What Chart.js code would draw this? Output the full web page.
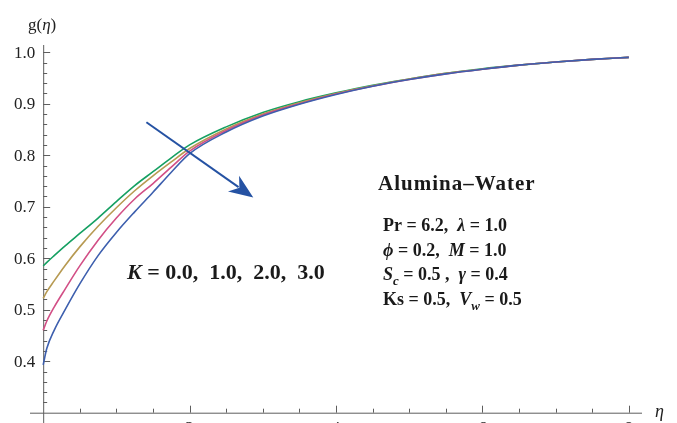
<!DOCTYPE html>
<html>
<head>
<meta charset="utf-8">
<script src="https://cdn.jsdelivr.net/npm/chart.js@4"></script>
<style>
  html, body { margin: 0; padding: 0; background: #fff; overflow: hidden; }
  #wrap { width: 677px; height: 423px; }
</style>
</head>
<body>
<div id="wrap"><canvas id="canvas" width="677" height="423"></canvas></div>
<script>
// eta values where the curves were read
var eta = [0, 0.05, 0.15, 0.3, 0.5, 0.75, 1.0, 1.25, 1.5, 1.75, 2.0, 2.5, 3.0, 3.5, 4.0, 4.5, 5.0, 5.5, 6.0, 6.5, 7.0, 7.5, 8.0];
var gK0 = [0.393, 0.425, 0.46, 0.5, 0.55, 0.605, 0.65, 0.69, 0.728, 0.767, 0.803, 0.845, 0.876, 0.899, 0.918, 0.934, 0.947, 0.958, 0.967, 0.975, 0.981, 0.986, 0.99];
var gK1 = [0.46, 0.478, 0.505, 0.54, 0.585, 0.635, 0.678, 0.715, 0.745, 0.777, 0.808, 0.848, 0.878, 0.9, 0.919, 0.934, 0.947, 0.958, 0.967, 0.975, 0.981, 0.986, 0.99];
var gK2 = [0.522, 0.535, 0.556, 0.586, 0.622, 0.662, 0.698, 0.731, 0.76, 0.787, 0.813, 0.851, 0.88, 0.902, 0.92, 0.935, 0.948, 0.959, 0.967, 0.975, 0.981, 0.986, 0.99];
var gK3 = [0.585, 0.592, 0.605, 0.624, 0.648, 0.678, 0.71, 0.741, 0.768, 0.795, 0.82, 0.855, 0.883, 0.904, 0.921, 0.936, 0.948, 0.959, 0.968, 0.975, 0.981, 0.986, 0.99];
var kLabels = ['K = 0.0', 'K = 1.0', 'K = 2.0', 'K = 3.0'];
var colors = ['#3d5fae', '#d24f86', '#b79a52', '#15a062'];

var xTicks = [0, 2, 4, 6, 8];
var yTicks = [0.4, 0.5, 0.6, 0.7, 0.8, 0.9, 1.0];

function pts(ys) {
    return eta.map(function(e, i) { return {x: e, y: ys[i]}; });
}

var serif = '"Liberation Serif", "DejaVu Serif", serif';
var axisColor = '#5e5e5e';

function drawRuns(ctx, x, y, parts, size) {
    parts.forEach(function(p) {
        var sub = p[2];
        var s = sub ? size * 0.72 : size;
        ctx.font = (p[1] ? 'italic ' : '') + 'bold ' + s + 'px ' + serif;
        ctx.fillText(p[0], x, y + (sub ? size * 0.28 : 0));
        x += ctx.measureText(p[0]).width;
    });
}

var axesPlugin = {
    id: 'mmaAxes',
    beforeDatasetsDraw: function(chart) {
        var ctx = chart.ctx;
        var xs = chart.scales.x, ys = chart.scales.y, area = chart.chartArea;
        var x0 = xs.getPixelForValue(0), y0 = ys.getPixelForValue(0.3);
        ctx.save();
        ctx.strokeStyle = axisColor;
        ctx.lineWidth = 1;
        ctx.beginPath();
        ctx.moveTo(x0 + 0.5, area.top);
        ctx.lineTo(x0 + 0.5, area.bottom);
        ctx.moveTo(area.left, y0 + 0.5);
        ctx.lineTo(area.right, y0 + 0.5);
        // y ticks, pointing into the plot
        for (var v = 0.32; v <= 1.001; v += 0.02) {
            var yp = Math.round(ys.getPixelForValue(v)) + 0.5;
            var major = Math.abs(v * 10 - Math.round(v * 10)) < 1e-6;
            ctx.moveTo(x0, yp);
            ctx.lineTo(x0 + (major ? 7 : 4), yp);
        }
        // x ticks, pointing up
        for (var e = 0.5; e <= 8.001; e += 0.5) {
            var xp = Math.round(xs.getPixelForValue(e)) + 0.5;
            var maj = Math.abs(e / 2 - Math.round(e / 2)) < 1e-6;
            ctx.moveTo(xp, y0);
            ctx.lineTo(xp, y0 - (maj ? 7 : 4));
        }
        ctx.stroke();

        ctx.fillStyle = '#222';
        ctx.font = '17px ' + serif;
        ctx.textAlign = 'right';
        ctx.textBaseline = 'middle';
        yTicks.forEach(function(t) {
            ctx.fillText(t.toFixed(1), x0 - 8, ys.getPixelForValue(t) + 1);
        });
        ctx.textAlign = 'center';
        ctx.textBaseline = 'top';
        xTicks.forEach(function(t) {
            if (t === 0) return;
            ctx.fillText(String(t), xs.getPixelForValue(t), y0 + 7);
        });

        // axis titles
        ctx.textAlign = 'left';
        ctx.textBaseline = 'alphabetic';
        ctx.font = '17px ' + serif;
        ctx.fillText('g(', 28, 30);
        var w = ctx.measureText('g(').width;
        ctx.font = 'italic 17px ' + serif;
        ctx.fillText('\u03b7', 28 + w, 30);
        w += ctx.measureText('\u03b7').width;
        ctx.font = '17px ' + serif;
        ctx.fillText(')', 28 + w, 30);
        ctx.font = 'italic 18px ' + serif;
        ctx.fillText('\u03b7', 655, 417);
        ctx.restore();
    },
    afterDatasetsDraw: function(chart) {
        var ctx = chart.ctx;
        var xs = chart.scales.x, ys = chart.scales.y;
        ctx.save();
        // arrow showing increasing K
        var ax = xs.getPixelForValue(1.41), ay = ys.getPixelForValue(0.864);
        var bx = xs.getPixelForValue(2.87), by = ys.getPixelForValue(0.718);
        var ang = Math.atan2(by - ay, bx - ax);
        ctx.strokeStyle = '#2552a3';
        ctx.fillStyle = '#2552a3';
        ctx.lineWidth = 2;
        ctx.beginPath();
        ctx.moveTo(ax, ay);
        ctx.lineTo(bx - 18 * Math.cos(ang), by - 18 * Math.sin(ang));
        ctx.stroke();
        ctx.beginPath();
        ctx.moveTo(bx, by);
        ctx.lineTo(bx - 26 * Math.cos(ang - 0.38), by - 26 * Math.sin(ang - 0.38));
        ctx.lineTo(bx - 17 * Math.cos(ang), by - 17 * Math.sin(ang));
        ctx.lineTo(bx - 26 * Math.cos(ang + 0.38), by - 26 * Math.sin(ang + 0.38));
        ctx.closePath();
        ctx.fill();

        ctx.fillStyle = '#1a1a1a';
        ctx.textAlign = 'left';
        ctx.textBaseline = 'alphabetic';
        ctx.letterSpacing = '1px';
        drawRuns(ctx, 378, 190, [['Alumina\u2013Water', false]], 21);
        ctx.letterSpacing = '0px';
        drawRuns(ctx, 383, 231, [['Pr = 6.2,  ', false], ['\u03bb', true], [' = 1.0', false]], 18);
        drawRuns(ctx, 383, 256, [['\u03d5', true], [' = 0.2,  ', false], ['M', true], [' = 1.0', false]], 18);
        drawRuns(ctx, 383, 280, [['S', true], ['c', true, true], [' = 0.5 ,  ', false], ['\u03b3', true], [' = 0.4', false]], 18);
        drawRuns(ctx, 383, 305, [['Ks = 0.5,  ', false], ['V', true], ['w', true, true], [' = 0.5', false]], 18);
        drawRuns(ctx, 127, 279, [['K', true], [' = 0.0,  1.0,  2.0,  3.0', false]], 22);
        ctx.restore();
    }
};

var datasets = [gK0, gK1, gK2, gK3].map(function(ys, i) {
    return {
        label: kLabels[i],
        data: pts(ys),
        borderColor: colors[i],
        borderWidth: 1.6,
        pointRadius: 0,
        fill: false,
        cubicInterpolationMode: 'monotone'
    };
});

var ctx = document.getElementById('canvas').getContext('2d');
var chart = new Chart(ctx, {
    type: 'line',
    data: { datasets: datasets },
    options: {
        responsive: false,
        animation: false,
        layout: { padding: { left: 30, right: 35, top: 45, bottom: 0 } },
        plugins: { legend: { display: false }, tooltip: { enabled: false } },
        scales: {
            x: { type: 'linear', min: -0.18, max: 8.18, display: false },
            y: { type: 'linear', min: 0.28, max: 1.014, display: false }
        }
    },
    plugins: [axesPlugin]
});
</script>
</body>
</html>
